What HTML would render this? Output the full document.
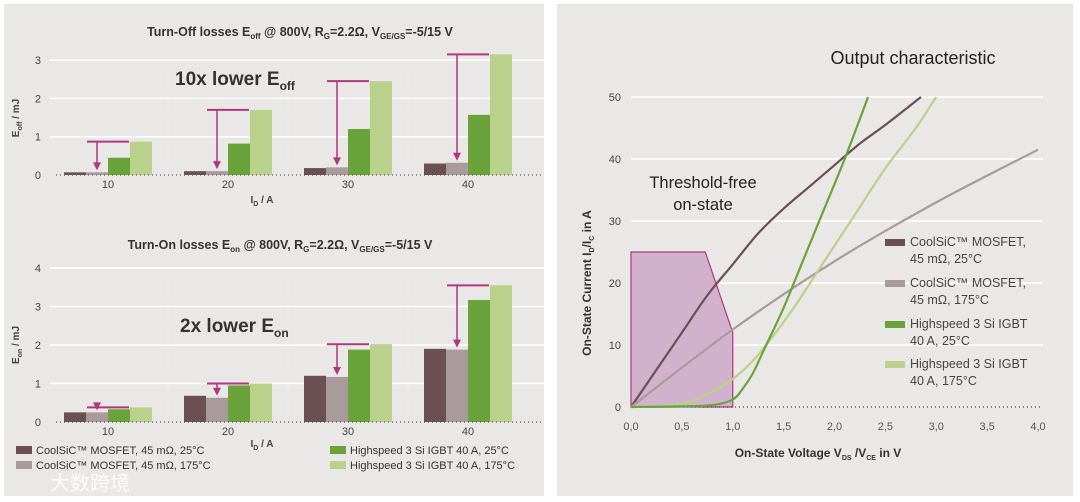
<!DOCTYPE html>
<html><head><meta charset="utf-8"><style>
body{margin:0;background:#fff;width:1080px;height:502px;overflow:hidden;font-family:"Liberation Sans","Noto Sans CJK SC",sans-serif}
svg{position:absolute;left:0;top:0}
</style></head><body>
<svg id="c" width="1080" height="502" font-family="Liberation Sans, Noto Sans CJK SC, sans-serif">
<rect x="4" y="4" width="540" height="492" fill="#e9e8e6"/>
<rect x="557" y="4" width="516" height="492" fill="#e9e8e6"/>
</svg>
<script>
const groups=["10","20","30","40"];
const offSic25=[0.07,0.1,0.18,0.3];
const offSic175=[0.07,0.1,0.2,0.32];
const offIgbt25=[0.45,0.82,1.2,1.57];
const offIgbt175=[0.87,1.7,2.45,3.15];
const offTicks=[0,1,2,3];
const onSic25=[0.25,0.68,1.2,1.9];
const onSic175=[0.25,0.63,1.17,1.88];
const onIgbt25=[0.33,0.95,1.88,3.17];
const onIgbt175=[0.38,1.0,2.02,3.55];
const onTicks=[0,1,2,3,4];
const vTicks=[0,0.5,1,1.5,2,2.5,3,3.5,4];
const iTicks=[0,10,20,30,40,50];
const mos25V=[0,0.25,0.5,0.75,1,1.25,1.5,1.75,2,2.25,2.5,2.85];
const mos25I=[0,6,12,18,23,28,32,35.5,39,42.5,45.5,50];
const mos175V=[0,1,2,3,4];
const mos175I=[0,12.5,23.5,33,41.5];
const igbt25V=[0,0.5,0.8,1,1.1,1.2,1.3,1.5,1.7,1.9,2.1,2.33];
const igbt25I=[0,0.1,0.3,1.2,3,5.5,9,16,24,32,40,50];
const igbt175V=[0,0.5,0.8,1,1.2,1.4,1.6,1.8,2,2.2,2.5,2.8,3];
const igbt175I=[0,0.5,2.5,4.5,7.5,11.5,16,21,26,31,38.5,45,50];
const regionV=[0,0.73,1,1,0];
const regionI=[25,25,12,0,0];

const NS="http://www.w3.org/2000/svg";
const svg=document.getElementById('c');
function mk(tag,attrs,parent){const e=document.createElementNS(NS,tag);for(const k in attrs)e.setAttribute(k,attrs[k]);(parent||svg).appendChild(e);return e;}
function txt(x,y,s,size,attrs){const e=mk('text',Object.assign({x:x,y:y,'font-size':size,fill:'#333'},attrs||{}));e.innerHTML=s;return e;}
function smooth(pts){let d='M'+pts[0][0]+','+pts[0][1];for(let i=0;i<pts.length-1;i++){const p0=pts[i-1]||pts[i],p1=pts[i],p2=pts[i+1],p3=pts[i+2]||p2;
d+=`C${p1[0]+(p2[0]-p0[0])/6},${p1[1]+(p2[1]-p0[1])/6} ${p2[0]-(p3[0]-p1[0])/6},${p2[1]-(p3[1]-p1[1])/6} ${p2[0]},${p2[1]}`;}return d;}
const C=["#6b4f53","#a99a9b","#6aa33a","#b9d18a"];
const MAG="#b0377f";

function barChart(cfg){
  const y=v=>cfg.y0-v*cfg.k;
  const gx=i=>108+i*120;
  cfg.ticks.forEach(t=>{
    if(t>0){const l=mk('line',{x1:50,x2:544,y1:y(t),y2:y(t),stroke:'#fff','stroke-width':1.5});
    
    }
    const e=txt(41,y(t)+4,t,11,{'text-anchor':'end',fill:'#444'});
    
    
  });
  [1,2,3].forEach(i=>{const l=mk('line',{x1:gx(i)-60,x2:gx(i)-60,y1:cfg.y0,y2:y(cfg.ticks[cfg.ticks.length-1]),stroke:'#f4f4f2','stroke-width':0.8,'stroke-dasharray':'1 2'});
    
    });
  groups.forEach((g,i)=>{
    cfg.series.forEach((s,j)=>{
      const x=gx(i)-44+j*22;
      const r=mk('rect',{x:x,y:y(s[i]),width:22,height:s[i]*cfg.k,fill:C[j]});
      
      
    });
    const top=cfg.series[3][i], low=cfg.series[1][i];
    const hl=mk('line',{x1:gx(i)-21,x2:gx(i)+21,y1:y(top),y2:y(top),stroke:MAG,'stroke-width':2});
    
    
    const ax=gx(i)-11, ay=y(low)-2;
    const vl=mk('line',{x1:ax,x2:ax,y1:y(top),y2:ay-6,stroke:MAG,'stroke-width':1.5});
    
    
    const ah=mk('path',{d:`M${ax-4},${ay-8}L${ax+4},${ay-8}L${ax},${ay}Z`,fill:MAG});
    
    
    const t=txt(gx(i),cfg.y0+13,g,11,{'text-anchor':'middle',fill:'#444'});
    
    
  });
  const base=mk('line',{x1:56,x2:544,y1:cfg.y0,y2:cfg.y0,stroke:'#555','stroke-width':1.2,'stroke-dasharray':'1 3'});
  
  
}
barChart({name:'eoff',y0:175,k:38.3,ticks:offTicks,series:[offSic25,offSic175,offIgbt25,offIgbt175]});
barChart({name:'eon',y0:422,k:38.5,ticks:onTicks,series:[onSic25,onSic175,onIgbt25,onIgbt175]});

let e;
e=txt(300,36,'Turn-Off losses E<tspan font-size="8" dy="3">off</tspan><tspan dy="-3"> @ 800V, R</tspan><tspan font-size="8" dy="3">G</tspan><tspan dy="-3">=2.2Ω, V</tspan><tspan font-size="8" dy="3">GE/GS</tspan><tspan dy="-3">=-5/15 V</tspan>',12.5,{'text-anchor':'middle','font-weight':'bold',fill:'#333'});

e=txt(175,85,'10x lower E<tspan font-size="12" dy="5">off</tspan>',19,{'font-weight':'bold',fill:'#333'});

e=txt(262,203,'I<tspan font-size="7" dy="3">D</tspan><tspan dy="-3"> / A</tspan>',10,{'text-anchor':'middle','font-weight':'bold',fill:'#444'});

e=txt(0,0,'E<tspan font-size="7" dy="3">off</tspan><tspan dy="-3"> / mJ</tspan>',10,{'text-anchor':'middle','font-weight':'bold',fill:'#444',transform:'translate(19,118) rotate(-90)'});


e=txt(280,249,'Turn-On losses E<tspan font-size="8" dy="3">on</tspan><tspan dy="-3"> @ 800V, R</tspan><tspan font-size="8" dy="3">G</tspan><tspan dy="-3">=2.2Ω, V</tspan><tspan font-size="8" dy="3">GE/GS</tspan><tspan dy="-3">=-5/15 V</tspan>',12.5,{'text-anchor':'middle','font-weight':'bold',fill:'#333'});

e=txt(180,332,'2x lower E<tspan font-size="12" dy="5">on</tspan>',19,{'font-weight':'bold',fill:'#333'});

e=txt(262,447,'I<tspan font-size="7" dy="3">D</tspan><tspan dy="-3"> / A</tspan>',10,{'text-anchor':'middle','font-weight':'bold',fill:'#444'});

e=txt(0,0,'E<tspan font-size="7" dy="3">on</tspan><tspan dy="-3"> / mJ</tspan>',10,{'text-anchor':'middle','font-weight':'bold',fill:'#444',transform:'translate(19,345) rotate(-90)'});


const legL=[["CoolSiC™ MOSFET, 45 mΩ, 25°C",16,451],["CoolSiC™ MOSFET, 45 mΩ, 175°C",16,466],["Highspeed 3 Si IGBT 40 A, 25°C",330,451],["Highspeed 3 Si IGBT 40 A, 175°C",330,466]];
legL.forEach((l,j)=>{
  const r=mk('rect',{x:l[1],y:l[2]-5,width:16,height:8,fill:C[j]});
  
  const t=txt(l[1]+20,l[2]+3,l[0],11,{fill:'#333'});
  
});
e=txt(50,490,'大数跨境',20,{fill:'#fff',opacity:0.85});


const X=v=>631+v*101.75, Y=i=>407-i*6.2;
iTicks.forEach(t=>{
  if(t>0){const l=mk('line',{x1:X(0),x2:1043,y1:Y(t),y2:Y(t),stroke:'#fff','stroke-width':1.5});
  }
  const tt=txt(621,Y(t)+4,t,11,{'text-anchor':'end',fill:'#444'});
  
});
vTicks.forEach(v=>{
  const tt=txt(X(v),430,v.toFixed(1).replace('.',','),11,{'text-anchor':'middle',fill:'#555'});
  
});
const reg=mk('polygon',{points:regionV.map((v,i)=>X(v)+','+Y(regionI[i])).join(' '),fill:'#d2b1cd',stroke:MAG,'stroke-width':1.2});

e=mk('line',{x1:X(0),x2:1043,y1:Y(0),y2:Y(0),stroke:'#444','stroke-width':1.2,'stroke-dasharray':'1 3'});

const curves=[[mos25V,mos25I,C[0],'curve-mosfet-25c'],[mos175V,mos175I,C[1],'curve-mosfet-175c'],[igbt175V,igbt175I,C[3],'curve-igbt-175c'],[igbt25V,igbt25I,C[2],'curve-igbt-25c']];
curves.forEach(c=>{
  const p=mk('path',{d:smooth(c[0].map((v,i)=>[X(v),Y(c[1][i])])),fill:'none',stroke:c[2],'stroke-width':2.2,'stroke-linejoin':'round'});
  
});
e=txt(913,64,'Output characteristic',18,{'text-anchor':'middle',fill:'#222'});

e=txt(703,188,'Threshold-free',16.5,{'text-anchor':'middle',fill:'#222'});

e=txt(703,210,'on-state',16.5,{'text-anchor':'middle',fill:'#222'});

e=txt(818,457,'On-State Voltage V<tspan font-size="7" dy="3">DS</tspan><tspan dy="-3"> /V</tspan><tspan font-size="7" dy="3">CE</tspan><tspan dy="-3"> in V</tspan>',12,{'text-anchor':'middle','font-weight':'bold',fill:'#333'});

e=txt(0,0,'On-State Current I<tspan font-size="7" dy="3">D</tspan><tspan dy="-3">/I</tspan><tspan font-size="7" dy="3">C</tspan><tspan dy="-3"> in A</tspan>',12,{'text-anchor':'middle','font-weight':'bold',fill:'#333',transform:'translate(591,283) rotate(-90)'});

const legR=[["CoolSiC™ MOSFET,","45 mΩ, 25°C",246],["CoolSiC™ MOSFET,","45 mΩ, 175°C",287],["Highspeed 3 Si IGBT","40 A, 25°C",328],["Highspeed 3 Si IGBT","40 A, 175°C",368]];
legR.forEach((l,j)=>{
  const r=mk('rect',{x:885,y:l[2]-7,width:20,height:7,fill:C[j]});
  
  const t=txt(910,l[2],l[0],12.5,{fill:'#444'});
  
  const t2=txt(910,l[2]+17,l[1],12.5,{fill:'#444'});
  
});
</script>
</body></html>
